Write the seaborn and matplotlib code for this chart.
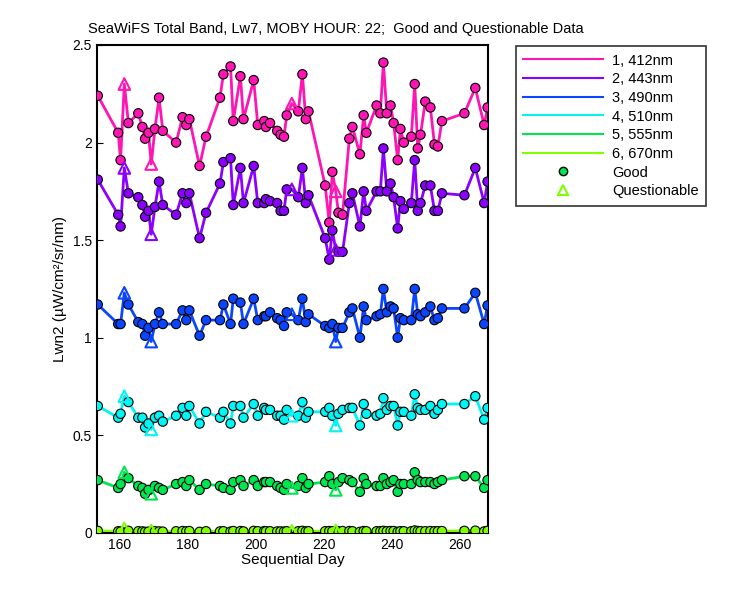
import numpy as np
import pandas as pd
import matplotlib
matplotlib.use("Agg")
import matplotlib.pyplot as plt
import seaborn as sns
from matplotlib.lines import Line2D

plt.rcParams["font.family"] = "Liberation Sans"

bands = ["1, 412nm", "2, 443nm", "3, 490nm", "4, 510nm", "5, 555nm", "6, 670nm"]
colors = ["#ff14b4", "#8c00ff", "#0a46ff", "#00f5f5", "#00e650", "#80ff00"]

days_good = [153.5,159.5,160.2,162.5,165.4,166.6,167.4,168.4,170.3,171.5,172.6,176.5,178.4,179.5,180.4,183.4,
             185.3,189.4,190.4,192.5,193.3,195.4,196.3,199.3,200.5,202.4,202.9,204.1,206.2,207.2,208.2,209.0,
             212.4,213.6,214.6,215.4,220.3,221.5,222.4,224.2,225.4,227.4,228.3,230.5,231.6,232.4,235.4,236.5,
             237.4,238.4,239.5,240.4,241.6,242.4,243.4,245.6,246.6,247.5,248.3,249.7,251.2,252.4,253.4,254.6,
             261.2,264.4,267.0,268.0]
days_q = [161.3, 169.2, 210.5, 223.4]

good_412 = [2.24,2.05,1.91,2.10,2.15,2.08,2.02,2.05,2.07,2.23,2.06,2.00,2.13,2.09,2.12,1.88,2.03,2.23,2.35,2.39,2.11,2.34,2.12,2.32,2.09,2.11,2.08,2.10,2.06,2.04,2.03,2.14,
            2.16,2.35,2.12,2.16,1.78,1.59,1.85,1.64,1.63,2.02,2.08,1.94,2.14,2.05,2.19,2.15,2.41,2.15,2.19,2.10,1.91,2.07,2.00,2.03,2.30,1.97,2.04,2.21,2.18,1.99,1.98,2.11,2.15,2.28,2.09,2.18]
good_443 = [1.81,1.63,1.57,1.74,1.72,1.68,1.62,1.65,1.67,1.80,1.68,1.63,1.74,1.69,1.74,1.51,1.64,1.79,1.90,1.92,1.68,1.87,1.69,1.88,1.69,1.69,1.71,1.70,1.69,1.65,1.65,1.76,
            1.72,1.87,1.69,1.73,1.51,1.40,1.55,1.44,1.44,1.69,1.74,1.57,1.75,1.65,1.75,1.75,1.97,1.75,1.79,1.72,1.56,1.70,1.66,1.69,1.91,1.65,1.69,1.78,1.78,1.65,1.65,1.74,1.73,1.87,1.69,1.80]
good_490 = [1.17,1.07,1.07,1.17,1.08,1.07,1.01,1.05,1.07,1.13,1.07,1.07,1.14,1.09,1.14,1.01,1.09,1.09,1.17,1.07,1.20,1.18,1.07,1.20,1.09,1.11,1.11,1.13,1.10,1.09,1.06,1.13,
            1.09,1.20,1.08,1.12,1.06,1.05,1.07,1.05,1.05,1.13,1.15,1.00,1.16,1.09,1.11,1.12,1.25,1.13,1.16,1.15,1.00,1.10,1.09,1.09,1.25,1.12,1.11,1.13,1.16,1.09,1.10,1.15,1.15,1.23,1.07,1.165]
good_510 = [0.65,0.59,0.61,0.67,0.59,0.59,0.54,0.56,0.59,0.60,0.57,0.60,0.64,0.60,0.65,0.56,0.62,0.59,0.62,0.56,0.65,0.65,0.59,0.66,0.60,0.64,0.63,0.63,0.60,0.60,0.58,0.63,
            0.60,0.67,0.59,0.62,0.62,0.64,0.60,0.61,0.63,0.64,0.64,0.55,0.66,0.61,0.60,0.61,0.69,0.63,0.65,0.65,0.55,0.62,0.62,0.60,0.71,0.64,0.63,0.63,0.65,0.61,0.63,0.66,0.66,0.70,0.58,0.64]
good_555 = [0.27,0.23,0.25,0.28,0.24,0.23,0.20,0.22,0.24,0.23,0.22,0.25,0.26,0.24,0.27,0.22,0.25,0.24,0.23,0.22,0.26,0.27,0.24,0.27,0.24,0.26,0.26,0.26,0.24,0.23,0.22,0.25,
            0.24,0.28,0.23,0.25,0.26,0.29,0.25,0.26,0.28,0.27,0.26,0.21,0.28,0.25,0.24,0.24,0.28,0.25,0.26,0.27,0.21,0.25,0.25,0.25,0.31,0.27,0.26,0.26,0.26,0.25,0.26,0.27,0.29,0.29,0.23,0.27]
good_670 = [0.010,0.008,0.006,0.010,0.008,0.007,0.005,0.006,0.008,0.007,0.006,0.008,0.009,0.008,0.009,0.005,0.008,0.007,0.008,0.006,0.009,0.009,0.007,0.010,0.008,0.009,0.008,0.008,0.007,0.007,0.006,0.008,
            0.008,0.010,0.007,0.008,0.008,0.009,0.008,0.008,0.009,0.009,0.008,0.005,0.009,0.008,0.008,0.008,0.010,0.008,0.009,0.009,0.005,0.008,0.008,0.008,0.012,0.009,0.008,0.008,0.009,0.008,0.008,0.009,0.010,0.011,0.007,0.010]
q_412 = [2.30, 1.89, 2.20, 1.75]
q_443 = [1.87, 1.53, 1.76, 1.45]
q_490 = [1.23, 0.98, 1.12, 0.98]
q_510 = [0.70, 0.53, 0.60, 0.55]
q_555 = [0.31, 0.20, 0.23, 0.22]
q_670 = [0.022, 0.012, 0.010, 0.012]

goods = [good_412, good_443, good_490, good_510, good_555, good_670]
qs = [q_412, q_443, q_490, q_510, q_555, q_670]

rows = []
for b, g, q in zip(bands, goods, qs):
    for d, v in zip(days_good, g):
        rows.append((b, d, v, "Good"))
    for d, v in zip(days_q, q):
        rows.append((b, d, v, "Questionable"))
df = pd.DataFrame(rows, columns=["band", "day", "val", "flag"]).sort_values(["band", "day"])

fig = plt.figure(figsize=(7.5, 6), dpi=100)
ax = fig.add_axes([0.129, 0.112, 0.522, 0.813])
pal = dict(zip(bands, colors))
sns.lineplot(data=df, x="day", y="val", hue="band", palette=pal, estimator=None, sort=True,
             lw=2, legend=False, ax=ax)
gd = df[df.flag == "Good"]
sns.scatterplot(data=gd, x="day", y="val", hue="band", palette=pal, s=45, edgecolor="black",
                linewidth=0.8, legend=False, ax=ax, zorder=3)
qd = df[df.flag == "Questionable"]
for b, c in zip(bands, colors):
    sub = qd[qd.band == b]
    sns.scatterplot(data=sub, x="day", y="val", marker="^", s=70, facecolor="none",
                    edgecolor=c, linewidth=1.5, legend=False, ax=ax, zorder=3)

ax.set_xlim(153.2, 268.2)
ax.set_ylim(0, 2.5)
ax.set_xticks([160, 180, 200, 220, 240, 260])
ax.set_yticks([0, 0.5, 1, 1.5, 2, 2.5])
ax.set_yticklabels(["0", "0.5", "1", "1.5", "2", "2.5"])
ax.tick_params(direction="in", labelsize=10, length=4)
for s in ax.spines.values():
    s.set_linewidth(1.5)
ax.set_xlabel("Sequential Day", fontsize=11, labelpad=1)
ax.set_ylabel("Lwn2 (µW/cm²/sr/nm)", fontsize=11)
fig.text(0.448, 0.952, "SeaWiFS Total Band, Lw7, MOBY HOUR: 22;  Good and Questionable Data",
         fontsize=10.5, ha="center", va="center")

handles = [Line2D([], [], color=c, lw=1.5, label=b) for b, c in zip(bands, colors)]
handles.append(Line2D([], [], ls="none", marker="o", mfc=colors[4], mec="black", ms=6, label="Good"))
handles.append(Line2D([], [], ls="none", marker="^", mfc="none", mec=colors[5], mew=1.5, ms=7, label="Questionable"))
leg = fig.legend(handles=handles, loc="upper left", bbox_to_anchor=(0.678, 0.935), frameon=True,
                 fancybox=False, edgecolor="black", fontsize=10.5, handlelength=5.5,
                 labelspacing=0.32, borderpad=0.5, handletextpad=0.6)
leg.get_frame().set_linewidth(1.2)
fig.savefig("out.png", dpi=100)
